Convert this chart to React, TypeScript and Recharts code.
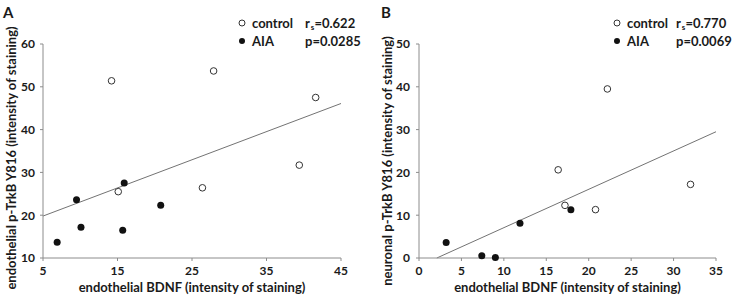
import React from 'react';
import { ScatterChart, Scatter, XAxis, YAxis, ReferenceLine, Label } from 'recharts';

// panel A: endothelial p-TrkB vs endothelial BDNF
const controlA = [
  { x: 14.2, y: 51.4 },
  { x: 27.9, y: 53.7 },
  { x: 41.6, y: 47.5 },
  { x: 15.1, y: 25.5 },
  { x: 26.4, y: 26.4 },
  { x: 39.4, y: 31.7 },
];
const aiaA = [
  { x: 9.5, y: 23.6 },
  { x: 15.9, y: 27.5 },
  { x: 20.8, y: 22.3 },
  { x: 10.1, y: 17.2 },
  { x: 15.7, y: 16.5 },
  { x: 6.9, y: 13.7 },
];
const fitA = [
  { x: 5, y: 19.8 },
  { x: 45, y: 46.1 },
];
const xTicksA = [5, 15, 25, 35, 45];
const yTicksA = [10, 20, 30, 40, 50, 60];

// panel B: neuronal p-TrkB vs endothelial BDNF
const controlB = [
  { x: 22.2, y: 39.5 },
  { x: 16.4, y: 20.6 },
  { x: 17.2, y: 12.3 },
  { x: 20.8, y: 11.3 },
  { x: 32.0, y: 17.2 },
];
const aiaB = [
  { x: 3.2, y: 3.6 },
  { x: 7.4, y: 0.5 },
  { x: 9.0, y: 0.1 },
  { x: 11.9, y: 8.1 },
  { x: 17.9, y: 11.3 },
];
const fitB = [
  { x: 2.1, y: 0 },
  { x: 35, y: 29.5 },
];
const xTicksB = [0, 5, 10, 15, 20, 25, 30, 35];
const yTicksB = [0, 10, 20, 30, 40, 50];

const FONT = 'Lato, "Open Sans", sans-serif';
const AXIS = '#8c8c8c';
const TEXT = '#1a1a1a';

const XTick = (p: any) => (
  <text x={p.x} y={p.y} dy="0.71em" textAnchor="middle" fill={TEXT} fontSize={12} fontWeight={700} fontFamily={FONT}>
    {p.payload.value}
  </text>
);
const YTick = (p: any) => (
  <text x={p.x} y={p.y} dy="0.36em" textAnchor="end" fill={TEXT} fontSize={12} fontWeight={700} fontFamily={FONT}>
    {p.payload.value}
  </text>
);

const OpenDot = (p: any) => <circle cx={p.cx} cy={p.cy} r={3.3} fill="#fff" stroke="#333" strokeWidth={1} />;
const FilledDot = (p: any) => <circle cx={p.cx} cy={p.cy} r={3.5} fill="#111" />;

function Legend({ left, rLeft, r, p }: { left: number; rLeft: number; r: string; p: string }) {
  const row = { position: 'absolute' as const, left: 0, height: 18, display: 'flex', alignItems: 'center', whiteSpace: 'nowrap' as const };
  return (
    <div style={{ position: 'absolute', left, top: 14, width: 130, height: 40, fontSize: 13, fontWeight: 700, color: TEXT, fontFamily: FONT }}>
      <div style={{ ...row, top: 0 }}>
        <svg width={10} height={10} style={{ marginRight: 5 }}><circle cx={5} cy={5} r={3} fill="#fff" stroke="#333" /></svg>
        control
      </div>
      <div style={{ ...row, top: 18 }}>
        <svg width={10} height={10} style={{ marginRight: 5 }}><circle cx={5} cy={5} r={3} fill="#111" /></svg>
        AIA
      </div>
      <div style={{ ...row, top: 0, left: rLeft }}>
        r<span style={{ fontSize: 8, position: 'relative', top: 4, marginLeft: 1 }}>s</span>={r}
      </div>
      <div style={{ ...row, top: 18, left: rLeft }}>p={p}</div>
    </div>
  );
}

function YTitle({ cx, cy, text }: { cx: number; cy: number; text: string }) {
  return (
    <div
      style={{
        position: 'absolute', left: cx - 150, top: cy - 8, width: 300, height: 16, lineHeight: '16px',
        textAlign: 'center', transform: 'rotate(-90deg)', fontSize: 13, fontWeight: 700, color: TEXT,
        fontFamily: FONT, whiteSpace: 'nowrap',
      }}
    >
      {text}
    </div>
  );
}

const xTitleStyle = { fill: TEXT, fontSize: 13, fontWeight: 700, fontFamily: FONT };

export default function App() {
  return (
    <div style={{ position: 'absolute', left: 0, top: 0, width: 741, height: 296, background: '#fff', fontFamily: FONT }}>
      <div style={{ position: 'absolute', left: 0, top: 0 }}>
        <ScatterChart width={370} height={296} margin={{ top: 44, right: 29, bottom: 0, left: 0 }}>
          <XAxis type="number" dataKey="x" domain={[5, 45]} ticks={xTicksA} height={38} tickSize={3} tickMargin={5}
            stroke={AXIS} tick={XTick}>
            <Label value="endothelial BDNF (intensity of staining)" position="insideBottom" offset={4} style={xTitleStyle} />
          </XAxis>
          <YAxis type="number" dataKey="y" domain={[10, 60]} ticks={yTicksA} width={43} tickSize={3} tickMargin={5}
            stroke={AXIS} tick={YTick} />
          <ReferenceLine segment={fitA} stroke="#737373" strokeWidth={1} ifOverflow="visible" />
          <Scatter data={controlA} isAnimationActive={false} shape={OpenDot} />
          <Scatter data={aiaA} isAnimationActive={false} shape={FilledDot} />
        </ScatterChart>
      </div>
      <div style={{ position: 'absolute', left: 370, top: 0 }}>
        <ScatterChart width={371} height={296} margin={{ top: 44, right: 25, bottom: 0, left: 0 }}>
          <XAxis type="number" dataKey="x" domain={[0, 35]} ticks={xTicksB} height={38} tickSize={3} tickMargin={5}
            stroke={AXIS} tick={XTick}>
            <Label value="endothelial BDNF (intensity of staining)" position="insideBottom" offset={4} style={xTitleStyle} />
          </XAxis>
          <YAxis type="number" dataKey="y" domain={[0, 50]} ticks={yTicksB} width={49} tickSize={3} tickMargin={6}
            stroke={AXIS} tick={YTick} />
          <ReferenceLine segment={fitB} stroke="#737373" strokeWidth={1} ifOverflow="visible" />
          <Scatter data={controlB} isAnimationActive={false} shape={OpenDot} />
          <Scatter data={aiaB} isAnimationActive={false} shape={FilledDot} />
        </ScatterChart>
      </div>

      <div style={{ position: 'absolute', left: 3, top: 3, fontSize: 15, fontWeight: 700, color: TEXT }}>A</div>
      <div style={{ position: 'absolute', left: 381, top: 3, fontSize: 15, fontWeight: 700, color: TEXT }}>B</div>

      <YTitle cx={11} cy={158} text="endothelial p-TrkB Y816 (intensity of staining)" />
      <YTitle cx={387} cy={161} text="neuronal p-TrkB Y816 (intensity of staining)" />

      <Legend left={237} rLeft={68} r="0.622" p="0.0285" />
      <Legend left={612} rLeft={64} r="0.770" p="0.0069" />
    </div>
  );
}
